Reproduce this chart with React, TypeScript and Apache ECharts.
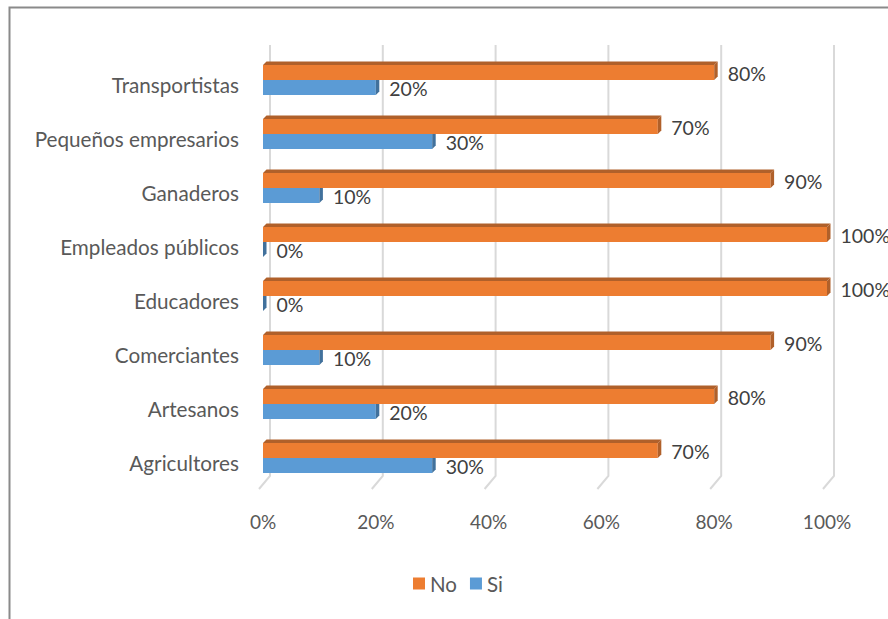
import React, { useEffect, useRef } from "react";
import * as echarts from "echarts";

const categories = [
  "Agricultores",
  "Artesanos",
  "Comerciantes",
  "Educadores",
  "Empleados públicos",
  "Ganaderos",
  "Pequeños empresarios",
  "Transportistas",
];
const noValues = [70, 80, 90, 100, 100, 90, 70, 80];
const siValues = [30, 20, 10, 0, 0, 10, 30, 20];
const tickValues = [0, 20, 40, 60, 80, 100];

const FONT = "Lato";
const TEXT_COLOR = "#595959";

function barRenderer(isNo: boolean, front: string, face: string) {
  return (params: any, api: any) => {
    const v = api.value(0);
    const ci = api.value(1);
    const start = api.coord([0, ci]);
    const end = api.coord([v, ci]);
    const band = api.size([0, 1])[1];
    const bw = (band * 15) / 54;
    const d = (band * 3.5) / 54;
    const y0 = isNo ? start[1] - bw : start[1];
    const x0 = start[0];
    const x1 = end[0];
    return {
      type: "group",
      children: [
        {
          type: "rect",
          shape: { x: x0, y: y0, width: x1 - x0, height: bw },
          style: { fill: front },
        },
        {
          type: "polygon",
          shape: {
            points: [
              [x0, y0],
              [x0 + d, y0 - d],
              [x1 + d, y0 - d],
              [x1, y0],
            ],
          },
          style: { fill: face },
        },
        {
          type: "polygon",
          shape: {
            points: [
              [x1, y0],
              [x1 + d, y0 - d],
              [x1 + d, y0 + bw - d],
              [x1, y0 + bw],
            ],
          },
          style: { fill: face },
        },
        {
          type: "text",
          style: {
            x: x1 + d + 10,
            y: y0 + bw / 2 + 1,
            text: v + "%",
            fill: "#404040",
            font: `19.5px ${FONT}`,
            verticalAlign: "middle",
            align: "left",
          },
        },
      ],
    };
  };
}

export default function App() {
  const ref = useRef<HTMLDivElement>(null);
  useEffect(() => {
    if (!ref.current) return;
    const chart = echarts.init(ref.current, null, { renderer: "svg" });
    chart.setOption({
      animation: false,
      backgroundColor: "#ffffff",
      textStyle: { fontFamily: FONT },
      graphic: [
        {
          type: "rect",
          shape: { x: 9.5, y: 7.5, width: 1000, height: 1000 },
          style: { fill: "none", stroke: "#8a8a8a", lineWidth: 2 },
          silent: true,
        },
      ],
      legend: {
        data: ["No", "Si"],
        top: 573,
        left: 413,
        padding: 0,
        itemWidth: 12,
        itemHeight: 12,
        itemGap: 13,
        icon: "rect",
        textStyle: { fontSize: 20.5, color: TEXT_COLOR, fontFamily: FONT },
      },
      grid: { left: 263, top: 53, width: 564, height: 432 },
      xAxis: {
        type: "value",
        min: 0,
        max: 100,
        interval: 20,
        axisLine: { show: false },
        axisTick: { show: false },
        splitLine: { show: false },
        axisLabel: {
          formatter: "{value}%",
          fontSize: 19,
          color: TEXT_COLOR,
          fontFamily: FONT,
          margin: 27,
        },
      },
      yAxis: {
        type: "category",
        data: categories,
        axisLine: { show: false },
        axisTick: { show: false },
        splitLine: { show: false },
        axisLabel: {
          fontSize: 20.7,
          color: TEXT_COLOR,
          fontFamily: FONT,
          margin: 24,
          verticalAlign: "top",
          lineHeight: 10,
        },
      },
      series: [
        {
          name: "grid3d",
          type: "custom",
          silent: true,
          z: 1,
          data: tickValues.map((v) => [v, 0]),
          encode: { x: 0, y: 1 },
          renderItem: (params: any, api: any) => {
            const x = api.coord([api.value(0), 0])[0];
            const cs = params.coordSys;
            const bottom = cs.y + cs.height;
            return {
              type: "polyline",
              shape: {
                points: [
                  [x + 7, cs.y - 8],
                  [x + 7, bottom - 9],
                  [x - 4, bottom + 4],
                ],
              },
              style: { stroke: "#d9d9d9", lineWidth: 2, fill: "none" },
            };
          },
        },
        {
          name: "Si",
          type: "custom",
          z: 2,
          itemStyle: { color: "#5B9BD5" },
          data: siValues.map((v, i) => [v, i]),
          encode: { x: 0, y: 1 },
          renderItem: barRenderer(false, "#5B9BD5", "#41719C"),
        },
        {
          name: "No",
          type: "custom",
          z: 3,
          itemStyle: { color: "#ED7D31" },
          data: noValues.map((v, i) => [v, i]),
          encode: { x: 0, y: 1 },
          renderItem: barRenderer(true, "#ED7D31", "#B0602A"),
        },
      ],
    });
    return () => chart.dispose();
  }, []);
  return (
    <div
      ref={ref}
      style={{ position: "fixed", left: 0, top: 0, width: 888, height: 619 }}
    />
  );
}
